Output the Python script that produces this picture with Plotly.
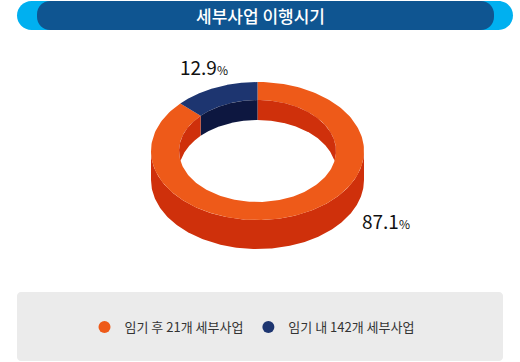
import numpy as np
import plotly.graph_objects as go

# ---- data ----
title = "세부사업 이행시기"
labels = ["임기 후 21개 세부사업", "임기 내 142개 세부사업"]
values = [87.1, 12.9]          # percent
value_text = ["87.1", "12.9"]
top_colors = ["#EE5A19", "#1D3570"]
wall_colors = ["#CF300B", "#0D1740"]

# ---- geometry of the tilted ring (pixel space of the 520x362 canvas) ----
W, H = 520, 362
cx, cy = 257.5, 151
a_o, b_o = 106.5, 69
a_i, b_i = 78.5, 51
d_o, d_i = 29, 20

def ell(a, b, t, dy=0.0):
    t = np.radians(t)
    return cx + a * np.cos(t), cy + dy - b * np.sin(t)

def arc(a, b, t1, t2, dy=0.0, n=200):
    t = np.linspace(t1, t2, n)
    return ell(a, b, t, dy)

# slice angles: navy starts at 12 o'clock and runs counter-clockwise
span = [v / sum(values) * 360 for v in values]
navy = (90, 90 + span[1])
orange = (90 + span[1], 90 + span[1] + span[0])

fig = go.Figure()

def poly(xs, ys, color):
    fig.add_trace(go.Scatter(x=np.concatenate(xs), y=np.concatenate(ys), mode="lines",
                             fill="toself", fillcolor=color, line=dict(width=0, color=color),
                             hoverinfo="skip", showlegend=False))

# outer (front) wall
x1, y1 = arc(a_o, b_o, 180, 360)
x2, y2 = arc(a_o, b_o, 360, 180, d_o)
poly([x1, x2], [y1, y2], wall_colors[0])

# top faces
for (t1, t2), col in [(orange, top_colors[0]), (navy, top_colors[1])]:
    x1, y1 = arc(a_o, b_o, t1, t2)
    x2, y2 = arc(a_i, b_i, t2, t1)
    poly([x1, x2], [y1, y2], col)

# inner (back) wall visible through the hole
alpha = np.degrees(np.arcsin(d_i / (2 * b_i)))
segs = [((-alpha, navy[0]), (navy[0], alpha), wall_colors[0]),
        ((navy[0], navy[1]), (navy[1], navy[0]), wall_colors[1]),
        ((navy[1], 180 + alpha), (180 - alpha, navy[1]), wall_colors[0])]
for (t1, t2), (s1, s2), col in segs:
    x1, y1 = arc(a_i, b_i, t1, t2)
    x2, y2 = arc(a_i, b_i, s1, s2, d_i)
    poly([x1, x2], [y1, y2], col)

# legend entries
for lab, col in zip(labels, top_colors):
    fig.add_trace(go.Scatter(x=[None], y=[None], mode="markers", name=lab,
                             marker=dict(color=col, size=12, symbol="circle")))

def rrect(x0, y0, x1, y1, r):
    k = 0.5523 * r
    return (f"M{x0+r},{y0} L{x1-r},{y0} C{x1-r+k},{y0} {x1},{y0+r-k} {x1},{y0+r} "
            f"L{x1},{y1-r} C{x1},{y1-r+k} {x1-r+k},{y1} {x1-r},{y1} "
            f"L{x0+r},{y1} C{x0+r-k},{y1} {x0},{y1-r+k} {x0},{y1-r} "
            f"L{x0},{y0+r} C{x0},{y0+r-k} {x0+r-k},{y0} {x0+r},{y0} Z")

font = "Noto Sans CJK KR"
shapes = [
    dict(type="path", xref="x", yref="y", path=rrect(17, 1, 513, 30, 14.5),
         fillcolor="#00B0F0", line_width=0, layer="below"),
    dict(type="path", xref="x", yref="y", path=rrect(37, 1, 494, 30, 13),
         fillcolor="#0F5591", line_width=0, layer="below"),
    dict(type="path", xref="x", yref="y", path=rrect(17, 292, 503, 361, 4),
         fillcolor="#EBEBEB", line_width=0, layer="below"),
]

pct = "<span style='font-size:12px'>%</span>"
fig.update_layout(
    width=W, height=H, margin=dict(l=0, r=0, t=0, b=0),
    paper_bgcolor="white", plot_bgcolor="white",
    xaxis=dict(range=[0, W], visible=False, fixedrange=True),
    yaxis=dict(range=[H, 0], visible=False, fixedrange=True),
    shapes=shapes,
    showlegend=True,
    legend=dict(orientation="h", x=0.5 - 8 / W, xanchor="center", y=1 - 327 / H, yanchor="middle",
                bgcolor="rgba(0,0,0,0)", font=dict(family=font, size=13, color="#333333"),
                itemwidth=30),
    annotations=[
        dict(x=260, y=15.5, xref="x", yref="y", text=title, showarrow=False,
             font=dict(family=font, size=17, color="white", weight=500)),
        dict(x=204, y=66, xref="x", yref="y", showarrow=False,
             text=value_text[1] + pct,
             font=dict(family=font, size=19, color="#111111")),
        dict(x=386, y=220, xref="x", yref="y", showarrow=False,
             text=value_text[0] + pct,
             font=dict(family=font, size=19, color="#111111")),
    ],
)

fig.write_html("out.html", config={"displayModeBar": False},
               post_script="document.body.style.margin='0';")
